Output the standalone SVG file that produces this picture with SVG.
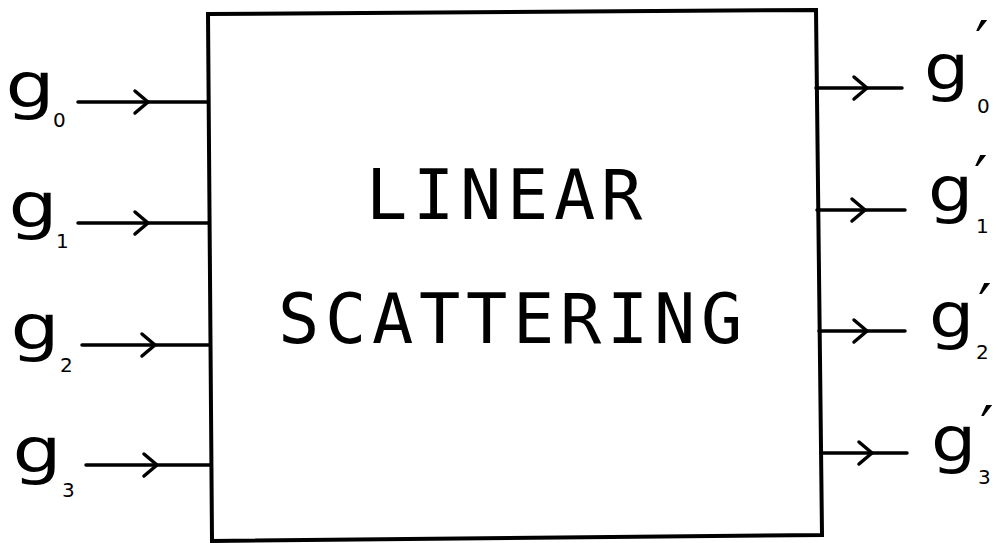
<svg xmlns="http://www.w3.org/2000/svg" width="999" height="543" viewBox="0 0 999 543">
<defs>
<marker id="chev" markerUnits="userSpaceOnUse" markerWidth="30" markerHeight="30" refX="0" refY="0" orient="auto" overflow="visible">
<path d="M-13,-11 L0,0 L-13,11" fill="none" stroke="#000" stroke-width="3.5" stroke-linecap="round" stroke-linejoin="round"/>
</marker>
<style>
.conn{fill:none;stroke:#000;stroke-width:3.5;stroke-linecap:round;marker-mid:url(#chev)}
.box{fill:#fff;stroke:#000;stroke-width:4;stroke-linejoin:miter}
.big{font-family:"DejaVu Sans Mono","Liberation Mono",monospace;font-size:68.6px;letter-spacing:5.7px;fill:#000}
.g{font-family:"DejaVu Sans","Liberation Sans",sans-serif;font-size:62px;fill:#000}
.sub{font-family:"DejaVu Sans","Liberation Sans",sans-serif;font-size:20px;fill:#000}
.pr{font-family:"DejaVu Sans","Liberation Sans",sans-serif;font-size:60px;fill:#000}
</style>
</defs>
<rect width="999" height="543" fill="#fff"/>
<g id="block">
<polygon class="box" points="208,14 816,10 822,535 212,541"/>
<text class="big" x="366" y="219">LINEAR</text>
<text class="big" x="278" y="343">SCATTERING</text>
</g>
<g id="connectors">
<path class="conn" d="M78,102 L148,102 L208,102"/>
<path class="conn" d="M78,223 L148,223 L209,223"/>
<path class="conn" d="M82,345 L155,345 L210,345"/>
<path class="conn" d="M86,465 L157,465 L211,465"/>
<path class="conn" d="M816,88 L867,88 L902,88"/>
<path class="conn" d="M817,210 L865,210 L905,210"/>
<path class="conn" d="M819,331 L867,331 L905,331"/>
<path class="conn" d="M821,453 L872,453 L907,453"/>
</g>
<g id="in-g0">
<text class="g" transform="translate(5.6,107) scale(1.25,1)">g</text>
<text class="sub" x="53" y="127">0</text>
</g>
<g id="in-g1">
<text class="g" transform="translate(8.6,227) scale(1.25,1)">g</text>
<text class="sub" x="56" y="248">1</text>
</g>
<g id="in-g2">
<text class="g" transform="translate(10.6,349) scale(1.25,1)">g</text>
<text class="sub" x="60" y="372">2</text>
</g>
<g id="in-g3">
<text class="g" transform="translate(12.6,472) scale(1.25,1)">g</text>
<text class="sub" x="62" y="497">3</text>
</g>
<g id="out-g0">
<text class="g" transform="translate(924,89) scale(1.15,1)">g</text>
<text class="sub" x="977" y="113">0</text>
<text class="pr" x="975" y="64">′</text>
</g>
<g id="out-g1">
<text class="g" transform="translate(928,211) scale(1.15,1)">g</text>
<text class="sub" x="976" y="233">1</text>
<text class="pr" x="974" y="199">′</text>
</g>
<g id="out-g2">
<text class="g" transform="translate(929,337) scale(1.15,1)">g</text>
<text class="sub" x="976" y="359">2</text>
<text class="pr" x="978" y="327">′</text>
</g>
<g id="out-g3">
<text class="g" transform="translate(931,461) scale(1.15,1)">g</text>
<text class="sub" x="978" y="484">3</text>
<text class="pr" x="980" y="449">′</text>
</g>
</svg>
